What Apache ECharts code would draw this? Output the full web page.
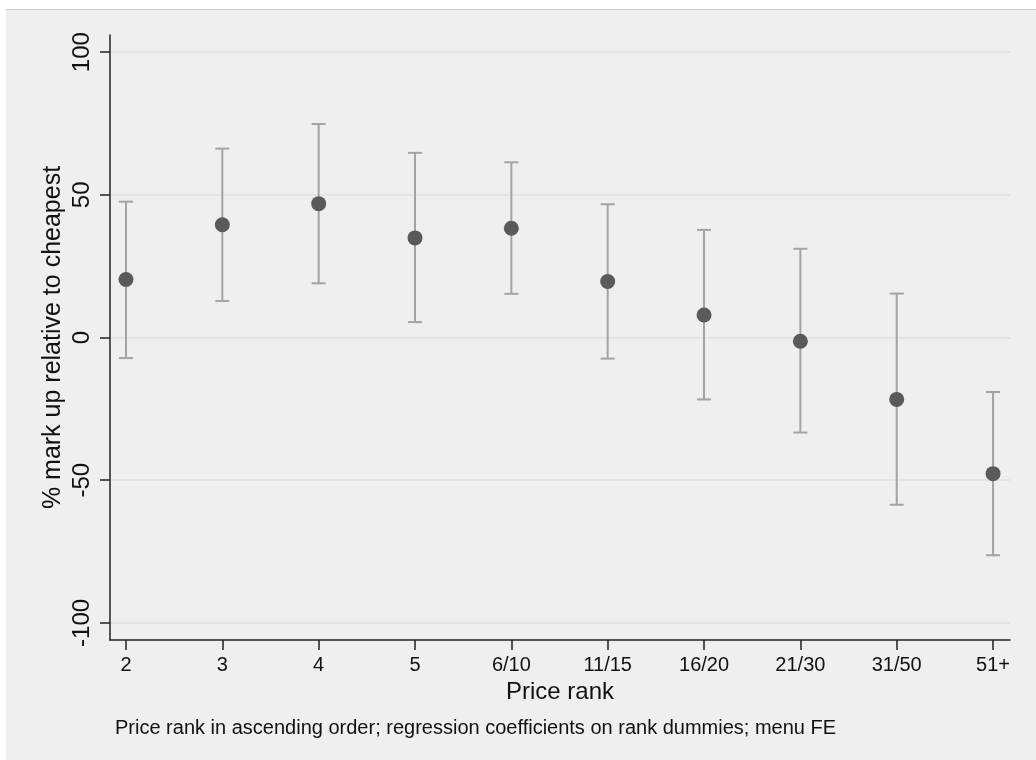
<!DOCTYPE html>
<html>
<head>
<meta charset="utf-8">
<script src="https://cdn.jsdelivr.net/npm/echarts@6/dist/echarts.min.js"></script>
<style>
  html, body { margin: 0; padding: 0; background: #ffffff; }
  #bg { position: absolute; left: 6px; top: 9px; width: 1030px; height: 751px; background: #efefef; border-top: 1px solid #cccccc; }
  #chart { position: absolute; left: 0; top: 0; width: 1036px; height: 760px; }
</style>
</head>
<body>
<div id="bg"></div>
<div id="chart"></div>
<script>
const categories = ['2', '3', '4', '5', '6/10', '11/15', '16/20', '21/30', '31/50', '51+'];
const estimates = [20.3, 39.5, 46.9, 34.9, 38.3, 19.6, 7.9, -1.3, -21.7, -47.7];
const upper = [47.6, 66.2, 74.8, 64.7, 61.4, 46.7, 37.7, 31.1, 15.4, -19.1];
const lower = [-7.2, 12.8, 19.0, 5.4, 15.3, -7.4, -21.7, -33.3, -58.6, -76.3];
const yTicks = [-100, -50, 0, 50, 100];
const xTitle = 'Price rank';
const yTitle = '% mark up relative to cheapest';
const note = 'Price rank in ascending order; regression coefficients on rank dummies; menu FE';

const FONT = "'Liberation Sans', Arial, Helvetica, sans-serif";
const xPositions = categories.map((c, i) => i + 1);

const chart = echarts.init(document.getElementById('chart'), null, { renderer: 'canvas' });

const option = {
  backgroundColor: 'transparent',
  animation: false,
  textStyle: { fontFamily: FONT },
  title: {
    text: note,
    left: 110,
    top: 713,
    textStyle: { fontFamily: FONT, fontSize: 20, fontWeight: 'normal', color: '#111' }
  },
  grid: { left: 110, right: 26, top: 35, bottom: 120, containLabel: false },
  xAxis: {
    type: 'value',
    min: 0.834,
    max: 10.176,
    name: xTitle,
    nameLocation: 'middle',
    nameGap: 40,
    nameMoveOverlap: false,
    nameTextStyle: { fontFamily: FONT, fontSize: 24, color: '#111' },
    axisLine: { show: true, onZero: false, lineStyle: { color: '#222', width: 1.5 } },
    axisTick: { show: true, length: 10, customValues: xPositions, lineStyle: { color: '#222', width: 1.5 } },
    axisLabel: {
      customValues: xPositions,
      margin: 15,
      fontFamily: FONT, fontSize: 20, color: '#111',
      formatter: v => categories[Math.round(v) - 1]
    },
    splitLine: { show: false }
  },
  yAxis: {
    type: 'value',
    min: -106,
    max: 106,
    name: yTitle,
    nameLocation: 'middle',
    nameGap: 44,
    nameMoveOverlap: false,
    nameTextStyle: { fontFamily: FONT, fontSize: 25, color: '#111' },
    axisLine: { show: true, onZero: false, lineStyle: { color: '#222', width: 1.5 } },
    axisTick: { show: true, length: 10, customValues: yTicks, lineStyle: { color: '#222', width: 1.5 } },
    axisLabel: {
      customValues: yTicks,
      rotate: 90,
      margin: 16,
      fontFamily: FONT, fontSize: 24, color: '#111'
    },
    splitLine: { show: true, lineStyle: { color: '#e3e3e3', width: 2 } }
  },
  series: [
    {
      type: 'custom',
      name: 'CI',
      encode: { x: 0, y: [1, 2] },
      data: categories.map((c, i) => [xPositions[i], lower[i], upper[i]]),
      renderItem: function (params, api) {
        const x = api.value(0);
        const lo = api.coord([x, api.value(1)]);
        const hi = api.coord([x, api.value(2)]);
        const hw = 7;
        const st = { stroke: '#a3a3a3', lineWidth: 2 };
        return {
          type: 'group',
          children: [
            { type: 'line', shape: { x1: hi[0], y1: hi[1], x2: lo[0], y2: lo[1] }, style: st },
            { type: 'line', shape: { x1: hi[0] - hw, y1: hi[1], x2: hi[0] + hw, y2: hi[1] }, style: st },
            { type: 'line', shape: { x1: lo[0] - hw, y1: lo[1], x2: lo[0] + hw, y2: lo[1] }, style: st }
          ]
        };
      },
      z: 2
    },
    {
      type: 'scatter',
      name: 'Estimate',
      data: categories.map((c, i) => [xPositions[i], estimates[i]]),
      symbol: 'circle',
      symbolSize: 15,
      itemStyle: { color: '#5a5a5a', opacity: 1 },
      z: 3
    }
  ]
};

chart.setOption(option);
</script>
</body>
</html>
